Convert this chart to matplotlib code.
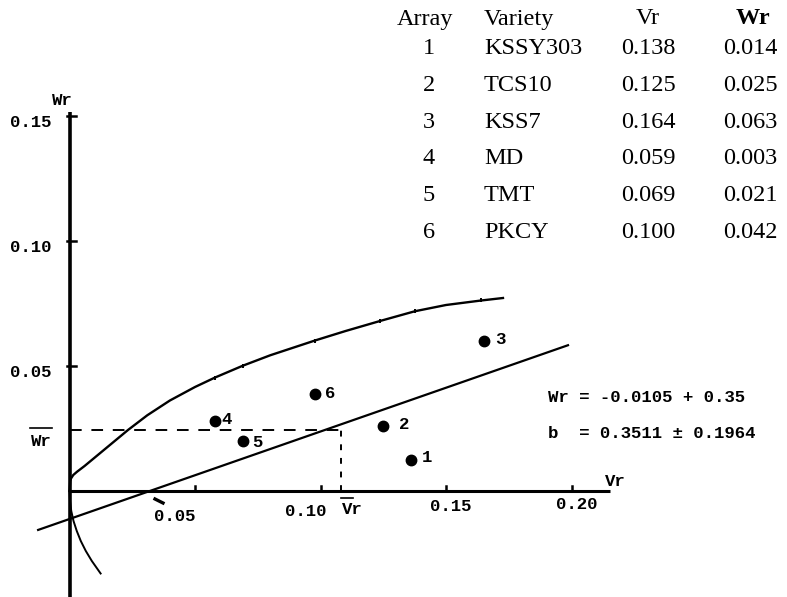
import numpy as np
import matplotlib
matplotlib.use("Agg")
import matplotlib.pyplot as plt

# ---- data ----
arrays = ["1", "2", "3", "4", "5", "6"]
varieties = ["KSSY303", "TCS10", "KSS7", "MD", "TMT", "PKCY"]
vr_table = ["0.138", "0.125", "0.164", "0.059", "0.069", "0.100"]
wr_table = ["0.014", "0.025", "0.063", "0.003", "0.021", "0.042"]
# plotted positions
vr_plot = [0.136, 0.125, 0.165, 0.058, 0.069, 0.098]
wr_plot = [0.0124, 0.026, 0.060, 0.028, 0.020, 0.039]
# regression line Wr = a + b*Vr
reg_a = -0.0112
reg_b = 0.35
vr_mean = 0.108
wr_mean = 0.0244
# hand-drawn limiting parabola (upper branch)
curve_vr = [0.0, 0.0003, 0.0006, 0.0015, 0.003, 0.006, 0.0233, 0.031, 0.040, 0.050, 0.058,
            0.069, 0.080, 0.0978, 0.110, 0.1237, 0.1376, 0.150, 0.164, 0.1727]
curve_wr = [0.0, 0.0040, 0.0050, 0.0064, 0.0077, 0.0100, 0.0244, 0.0303, 0.0362, 0.0416, 0.0454,
            0.0501, 0.0543, 0.0602, 0.0640, 0.0680, 0.0719, 0.0744, 0.0762, 0.0772]
# small marks on the parabola
mark_vr = [0.058, 0.069, 0.0978, 0.1237, 0.1376, 0.164]
mark_wr = [0.0454, 0.0501, 0.0602, 0.0680, 0.0719, 0.0762]
# lower branch
lower_wr = [0.0, -0.004, -0.008, -0.012, -0.016, -0.020, -0.024, -0.028, -0.033]
lower_vr = [0.0, 0.0002, 0.0007, 0.0016, 0.0029, 0.0045, 0.0065, 0.0089, 0.0124]
x_ticks = [0.05, 0.10, 0.15, 0.20]
x_ticklabels = ["0.05", "0.10", "0.15", "0.20"]
y_ticks = [0.05, 0.10, 0.15]
y_ticklabels = ["0.05", "0.10", "0.15"]

W, H = 787, 597
fig = plt.figure(figsize=(W / 100, H / 100), dpi=100)
ax = fig.add_axes([0, 0, 1, 1])
x0, sx = 69.5, 2510.0
y0, sy = 491.0, 2500.0
ax.set_xlim(-x0 / sx, (W - x0) / sx)
ax.set_ylim(-(H - y0) / sy, y0 / sy)
ax.axis("off")

mono = dict(family="Liberation Mono", weight="bold", fontsize=12.5, color="black")
serif = dict(family="Liberation Serif", fontsize=17.5, color="black")

def px(xp, yp):
    return (xp - x0) / sx, (y0 - yp) / sy

# axes
ax.plot([0, 0], [px(0, 597)[1], 0.1516], color="black", lw=2.6, solid_capstyle="butt")
ax.plot([0, 0.2153], [0, 0], color="black", lw=2.2, solid_capstyle="butt")
for t in y_ticks:
    ax.plot([-0.0008, 0.0025], [t, t], color="black", lw=1.8)
for t in x_ticks:
    ax.plot([t, t], [0, 0.0022], color="black", lw=1.8)

for t, lab in zip(y_ticks, y_ticklabels):
    ax.text(-0.0072, t - 0.0025, lab, ha="right", va="center", **mono)
offs = [(-0.010, -0.0100), (-0.008, -0.0080), (0.000, -0.0060), (0.0, -0.0050)]
for t, lab, (dx, dy) in zip(x_ticks, x_ticklabels, offs):
    ax.text(t + dx + 0.002, dy - 0.0003, lab, ha="center", va="center", **mono)

ax.text(-0.0030, 0.156, "Wr", ha="center", va="center", **mono)
ax.text(0.2132, 0.0040, "Vr", ha="left", va="center", **mono)

# Wr bar and Vr bar labels
wx, wy = px(41, 441)
ax.text(wx, wy, "Wr", ha="center", va="center", **mono)
ax.plot([px(30, 0)[0], px(52, 0)[0]], [px(0, 428)[1]] * 2, color="black", lw=1.2)
vx, vy = px(352, 510)
ax.text(vx, vy, "Vr", ha="center", va="center", **mono)
ax.plot([px(341, 0)[0], px(353, 0)[0]], [px(0, 498)[1]] * 2, color="black", lw=1.2)

# limiting parabola
ax.plot(curve_vr, curve_wr, color="black", lw=1.7, solid_joinstyle="round")
ax.plot(mark_vr, mark_wr, "|", color="black", markersize=3, mew=1.4)
ax.plot(lower_vr, lower_wr, color="black", lw=1.4, solid_joinstyle="round")

# regression line
xr = np.array([-0.0125, 0.1986])
ax.plot(xr, reg_a + reg_b * xr, color="black", lw=1.6)

# mean dashed lines
ax.plot([0, vr_mean], [wr_mean, wr_mean], color="black", lw=1.4, dashes=(6, 5))
ax.plot([vr_mean, vr_mean], [0, wr_mean], color="black", lw=1.4, dashes=(3, 4))

# small arrow mark near x-intercept
a1 = px(155, 499); a2 = px(163, 503)
ax.plot([a1[0], a2[0]], [a1[1], a2[1]], color="black", lw=2.4)

# points
ax.plot(vr_plot, wr_plot, "o", color="black", markersize=7.5)
lab_off = [(0.0065, 0.0012), (0.0085, 0.0006), (0.0065, 0.0006), (0.0047, 0.0005), (0.0057, -0.0005), (0.0060, 0.0001)]
for a, x, y, (dx, dy) in zip(arrays, vr_plot, wr_plot, lab_off):
    ax.text(x + dx, y + dy, a, ha="center", va="center", **mono)

# equation
ex, ey = px(548, 397)
ax.text(ex, ey, "Wr = -0.0105 + 0.35", ha="left", va="center", **mono)
ex, ey = px(548, 433)
ax.text(ex, ey, "b  = 0.3511 \u00b1 0.1964", ha="left", va="center", **mono)

# table (figure pixel coordinates)
def fx(xp): return xp / W
def fy(yp): return 1 - yp / H
hdr_y = 19
fig.text(fx(425), fy(hdr_y), "Array", ha="center", va="center", **serif)
fig.text(fx(484), fy(hdr_y), "Variety", ha="left", va="center", **serif)
fig.text(fx(648), fy(hdr_y), "Vr", ha="center", va="center", **serif)
fig.text(fx(753), fy(hdr_y), "Wr", ha="center", va="center", **{**serif, "weight": "bold"})
for i, (a, v, vr, wr) in enumerate(zip(arrays, varieties, vr_table, wr_table)):
    yy = 49 + i * 36.6
    fig.text(fx(429), fy(yy), a, ha="center", va="center", **serif)
    fig.text(fx(484), fy(yy), v, ha="left", va="center", **serif)
    fig.text(fx(648), fy(yy), vr, ha="center", va="center", **serif)
    fig.text(fx(750), fy(yy), wr, ha="center", va="center", **serif)

fig.savefig("out.png", dpi=100)
